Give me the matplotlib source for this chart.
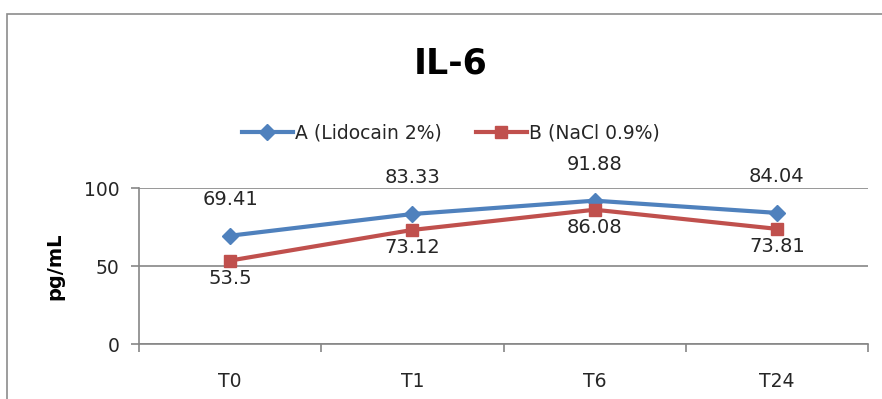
import matplotlib
matplotlib.use('Agg')
import matplotlib.pyplot as plt
from matplotlib.patches import Rectangle

# ---- data ----
categories = ['T0', 'T1', 'T6', 'T24']
lido = [69.41, 83.33, 91.88, 84.04]
nacl = [53.5, 73.12, 86.08, 73.81]
lido_labels = ['69.41', '83.33', '91.88', '84.04']
nacl_labels = ['53.5', '73.12', '86.08', '73.81']

BLUE = '#4F81BD'
RED = '#C0504D'
GRAY = '#868686'

plt.rcParams['font.family'] = 'DejaVu Sans'

fig = plt.figure(figsize=(8.82, 3.99), dpi=100, facecolor='white')
# outer chart frame (cropped at right/bottom)
fig.patches.append(Rectangle((7/882, -0.2), 1.2, 1.2 - 14/399,
                             transform=fig.transFigure, fill=False,
                             edgecolor='#8c8c8c', lw=1.2))

ax = fig.add_axes([139/882, 1 - 344/399, (868 - 139)/882, 156/399])
x = range(len(categories))
ax.plot(x, lido, color=BLUE, lw=3.0, marker='D', ms=8, label='A (Lidocain 2%)', zorder=4)
ax.plot(x, nacl, color=RED, lw=3.0, marker='s', ms=9, label='B (NaCl 0.9%)', zorder=5)

for i, (v, s) in enumerate(zip(lido, lido_labels)):
    ax.annotate(s, (i, v), xytext=(0, 26), textcoords='offset points',
                ha='center', va='center', fontsize=14, color='#262626')
for i, (v, s) in enumerate(zip(nacl, nacl_labels)):
    ax.annotate(s, (i, v), xytext=(0, -13), textcoords='offset points',
                ha='center', va='center', fontsize=14, color='#262626')

ax.set_xlim(-0.5, 3.5)
ax.set_ylim(0, 100)
ax.set_yticks([0, 50, 100])
ax.set_xticks(list(x))
ax.set_xticklabels(categories)
ax.set_xticks([-0.5, 0.5, 1.5, 2.5, 3.5], minor=True)
ax.tick_params(axis='x', which='major', length=0, pad=20, labelsize=13.5, labelcolor='#262626')
ax.tick_params(axis='x', which='minor', length=6, width=1.2, color=GRAY, direction='out')
ax.tick_params(axis='y', length=6, width=1.2, color=GRAY, pad=8, labelsize=13.5, labelcolor='#262626')
ax.grid(axis='y', color=GRAY, lw=1.2, zorder=0)
ax.set_axisbelow(True)
for sp in ['top', 'right']:
    ax.spines[sp].set_visible(False)
for sp in ['left', 'bottom']:
    ax.spines[sp].set_color(GRAY)
    ax.spines[sp].set_linewidth(1.2)

ax.set_ylabel('pg/mL', fontsize=14, fontweight='bold', labelpad=14)

fig.text(451/882, 1 - 63/399, 'IL-6', ha='center', va='center', fontsize=25,
         fontweight='bold')

fig.legend(loc='center', bbox_to_anchor=(451/882, 1 - 133/399), ncol=2, frameon=False,
           fontsize=13.5, handlelength=2.7, columnspacing=1.8, handletextpad=0.15,
           labelcolor='#262626')

plt.savefig('out.png', dpi=100, facecolor='white')
